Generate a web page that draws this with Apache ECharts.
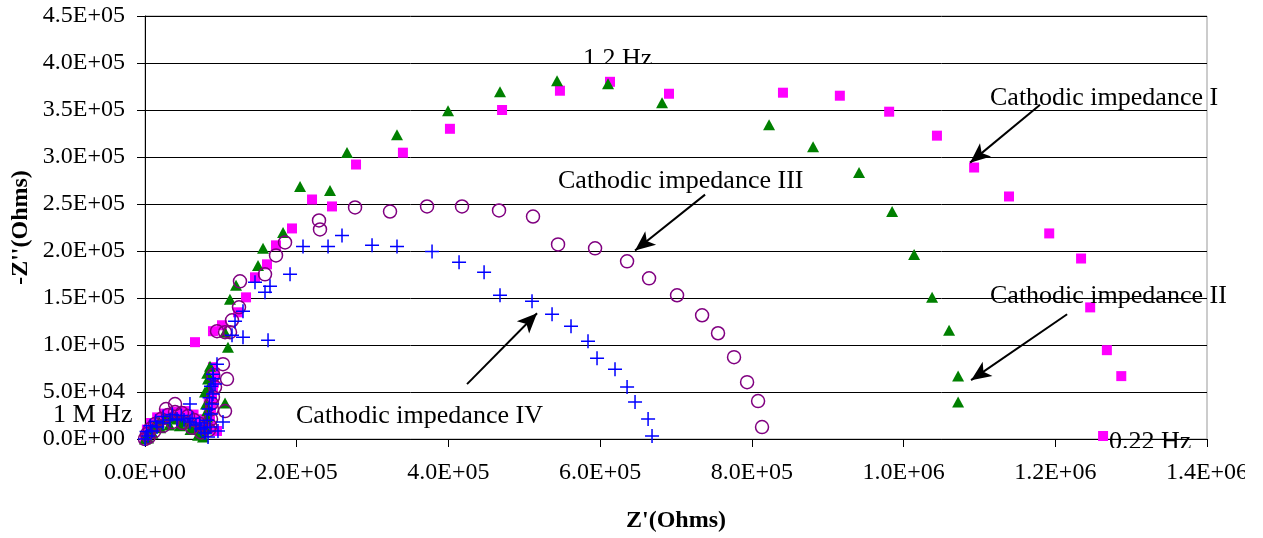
<!DOCTYPE html>
<html>
<head>
<meta charset="utf-8">
<script src="https://cdn.jsdelivr.net/npm/echarts@6/dist/echarts.min.js"></script>
<style>
    html, body { margin: 0; padding: 0; background: #fff; }
    #main { width: 1263px; height: 538px; }
</style>
</head>
<body>
<div id="main"></div>
<script>
// Z' / -Z'' (Ohms)
var catI = [
    [0,0],[1300,4200],[4000,8500],[7900,12700],[13200,17000],[19800,20200],[27700,22300],[35600,23400],
    [43500,23400],[51400,21200],[59300,19100],[67200,17000],[75100,14900],[81700,10600],[94900,8500],
    [85700,19100],[87000,31800],[88300,42500],[89600,53000],[88300,65800],[89600,76400],
    [2500,10000],[8000,17000],[16000,23000],[26000,27000],[40000,29000],[52700,29700],[64000,26000],
    [74000,21000],[80000,17000],[84000,25000],[84000,38000],[86000,48000],[91000,60000],[92000,70000],
    [65900,103000],[89600,114700],[101500,121000],[122600,134800],[133200,150700],[145000,172000],
    [160800,185800],[172700,206000],[193800,224000],[220200,254800],[246500,247400],[278200,292000],
    [340000,304600],[402000,330000],[470700,350000],[547000,370500],[613000,380000],[690800,367300],
    [841000,368400],[916000,365200],[981000,348200],[1044000,322700],[1093000,288800],[1139000,258000],
    [1192000,218700],[1234000,192000],[1246000,140000],[1268000,94500],[1287000,66900],[1263000,3200]
];
var catII = [
    [0,0],[2600,3200],[6600,8500],[11900,13800],[18500,18000],[26400,21200],[34300,22300],[42200,21200],
    [50100,19100],[58000,15900],[65900,11700],[72500,6400],[76500,2100],[80400,10600],[81700,23400],
    [80400,37200],[79100,49900],[83100,63700],[85700,77500],[105500,38200],
    [4000,1000],[10000,6000],[20000,12000],[32000,15000],[46000,14000],[60000,10000],[70000,4000],
    [82000,30000],[84000,55000],[82000,70000],
    [109400,97700],[105500,113600],[112000,148600],[120000,163500],[149000,184700],[155600,202800],
    [182000,219800],[204400,268600],[243900,264300],[266300,304700],[332200,323800],[399500,349300],
    [468000,369400],[543200,381100],[610400,377900],[681600,357800],[822700,334400],[880700,311000],
    [941300,283400],[984900,242000],[1013900,196300],[1037600,150700],[1060000,115700],[1071900,66900],
    [1071900,39300]
];
var catIII = [
    [0,0],[2600,5300],[6600,10600],[13200,15900],[21100,21200],[30300,25500],[39600,28700],[48800,27600],
    [56700,24400],[64600,20200],[72500,15900],[79100,11700],[84400,9600],[87000,21200],[88300,31800],
    [89600,44600],[92300,55200],[108100,63700],[105500,29700],[39600,37200],[27700,31800],
    [5000,2000],[12000,8000],[24000,14000],[36000,18000],[50000,17000],[62000,12000],[74000,7000],
    [86000,14000],[88000,38000],[90000,68000],
    [102800,79600],[94900,114700],[105500,113600],[112100,113600],[114700,126300],[123900,140100],
    [125200,167700],[158200,175200],[172700,195300],[184600,209100],[229400,232500],[230700,222900],
    [276900,246300],[323000,242000],[371800,247400],[417900,247400],[466700,243100],[511500,236700],
    [544500,207000],[593300,202800],[635500,189000],[664500,170900],[701400,152900],[734400,131600],
    [755400,112500],[776500,87100],[793700,60500],[808200,40300],[813400,12700]
];
var catIV = [
    [0,0],[4000,3200],[9200,8500],[15800,12700],[23700,17000],[33000,20200],[42200,21200],[51400,20200],
    [59300,18000],[67200,14900],[73800,10600],[79100,6400],[83100,2100],[85700,12700],[87000,26500],
    [88300,37200],[89600,47800],[92300,58400],[89600,69000],[96200,8500],[102800,18000],[59300,37200],
    [2000,8000],[7000,14000],[14000,19000],[24000,24000],[36000,26000],[48000,25000],[62000,22000],
    [72000,17000],[78000,12000],[82000,20000],[84000,32000],[85000,44000],[87000,56000],[90000,64000],
    [94900,79600],[114700,110400],[129200,108300],[162200,105100],[118700,125300],[129200,135900],
    [145000,166700],[158200,156100],[164800,162400],[191200,175200],[208300,204900],[241300,204900],
    [259700,216600],[299300,206000],[332200,204900],[378400,199600],[414000,187900],[447000,177300],
    [468000,152900],[510200,146500],[536600,132700],[561600,120000],[584000,104000],[595900,86000],
    [619600,74300],[635500,55200],[646000,39300],[663200,21200],[668400,3200]
];

// arrows: [from, to] in data units
var arrows = [
    [[1180000,355600],[1087700,294000]],
    [[738300,260000],[646000,200600]],
    [[1215600,132700],[1089000,62600]],
    [[424500,58400],[516800,133800]]
];

var FONT = '"Liberation Serif", "Times New Roman", serif';

// 1.2E+05 style labels
function sci(v) {
    if (v === 0) return '0.0E+00';
    var e = Math.floor(Math.log10(v) + 1e-9);
    var m = v / Math.pow(10, e);
    return m.toFixed(1) + 'E+' + (e < 10 ? '0' + e : e);
}

function note(text, x, y) {
    return {
        type: 'text', z: 50, silent: true,
        style: { text: text, x: x, y: y, fill: '#000', font: '26px ' + FONT, align: 'left', verticalAlign: 'middle' }
    };
}

function cover(x, y, w, h) {
    return { type: 'rect', z: 60, silent: true, shape: { x: x, y: y, width: w, height: h }, style: { fill: '#fff' } };
}

var myChart = echarts.init(document.getElementById('main'));

var option = {
    animation: false,
    grid: { left: 145, right: 56, top: 16, bottom: 98, show: true, borderColor: '#999', borderWidth: 1, backgroundColor: 'transparent' },
    xAxis: {
        type: 'value', min: 0, max: 1400000, interval: 200000,
        name: "Z'(Ohms)", nameLocation: 'middle', nameGap: 70, nameMoveOverlap: false,
        nameTextStyle: { fontFamily: FONT, fontSize: 24, fontWeight: 'bold', color: '#000' },
        axisLine: { show: true, lineStyle: { color: '#000', width: 1 } },
        axisTick: { show: true, length: 8, lineStyle: { color: '#000' } },
        axisLabel: { formatter: sci, fontFamily: FONT, fontSize: 24, color: '#000', margin: 22 },
        splitLine: { show: false }
    },
    yAxis: {
        type: 'value', min: 0, max: 450000, interval: 50000,
        name: "-Z''(Ohms)", nameLocation: 'middle', nameGap: 112, nameMoveOverlap: false,
        nameTextStyle: { fontFamily: FONT, fontSize: 24, fontWeight: 'bold', color: '#000' },
        axisLine: { show: true, lineStyle: { color: '#000', width: 1 } },
        axisTick: { show: true, length: 8, lineStyle: { color: '#000' } },
        axisLabel: { formatter: sci, fontFamily: FONT, fontSize: 24, color: '#000', margin: 20 },
        splitLine: { show: true, lineStyle: { color: '#000', width: 1 } }
    },
    series: [
        {
            name: 'Cathodic impedance I', type: 'scatter', data: catI,
            symbol: 'rect', symbolSize: 10,
            itemStyle: { color: '#FF00FF', opacity: 1 }
        },
        {
            name: 'Cathodic impedance II', type: 'scatter', data: catII,
            symbol: 'triangle', symbolSize: [12, 11],
            itemStyle: { color: '#008000', opacity: 1 }
        },
        {
            name: 'Cathodic impedance III', type: 'scatter', data: catIII,
            symbol: 'circle', symbolSize: 13,
            itemStyle: { color: 'rgba(0,0,0,0)', borderColor: '#800080', borderWidth: 1.5, opacity: 1 }
        },
        {
            name: 'Cathodic impedance IV', type: 'scatter', data: catIV,
            symbol: 'path://M5,0L5,10M0,5L10,5', symbolSize: 14,
            itemStyle: { color: 'rgba(0,0,0,0)', borderColor: '#0000FF', borderWidth: 1.5, opacity: 1 },
            markLine: {
                silent: true, animation: false,
                symbol: ['none', 'arrow'], symbolSize: [13, 20],
                lineStyle: { color: '#000', width: 2, type: 'solid' },
                label: { show: false },
                emphasis: { disabled: true },
                data: arrows.map(function (a) { return [{ coord: a[0] }, { coord: a[1] }]; })
            }
        }
    ],
    graphic: [
        note('Cathodic impedance I', 990, 98),
        note('Cathodic impedance III', 558, 181),
        note('Cathodic impedance II', 990, 296),
        note('Cathodic impedance IV', 296, 416),
        note('1.2 Hz', 583, 59),
        note('1 M Hz', 53, 415),
        note('0.22 Hz', 1109, 442),
        cover(578, 64, 80, 10),
        cover(1105, 448, 95, 12),
        cover(1245, 0, 18, 538)
    ]
};

myChart.setOption(option);
</script>
</body>
</html>
